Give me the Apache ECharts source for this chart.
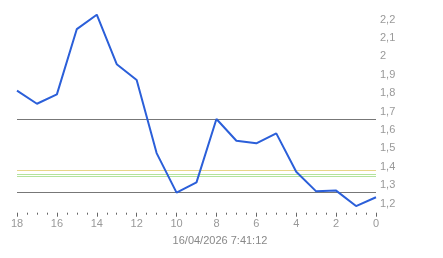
<!DOCTYPE html>
<html><head><meta charset="utf-8">
<script src="https://cdn.jsdelivr.net/npm/echarts@6/dist/echarts.min.js"></script>
<style>html,body{margin:0;padding:0;background:#fff}#c{width:443px;height:258px}</style>
</head><body><div id="c"></div>
<script>
const xValues = [18,17,16,15,14,13,12,11,10,9,8,7,6,5,4,3,2,1,0];
const yValues = [1.813,1.742,1.793,2.148,2.226,1.957,1.871,1.474,1.259,1.315,1.659,1.541,1.527,1.581,1.373,1.266,1.270,1.186,1.234];
const grayLines = [1.663, 1.261];
const yellowLines = [1.380];
const greenLines = [1.362, 1.349];
const dateLabel = '16/04/2026 7:41:12';

const chart = echarts.init(document.getElementById('c'));
const ml = [];
grayLines.forEach(v => ml.push({yAxis: v, lineStyle: {color: '#777777', width: 1, type: 'solid'}}));
yellowLines.forEach(v => ml.push({yAxis: v, lineStyle: {color: '#e8d58a', width: 1, type: 'solid'}}));
greenLines.forEach(v => ml.push({yAxis: v, lineStyle: {color: '#b3e39c', width: 1, type: 'solid'}}));

chart.setOption({
  animation: false,
  grid: {left: 17, right: 67, top: 10.3, bottom: 45.3},
  xAxis: {
    type: 'value', min: 0, max: 18, interval: 2, inverse: true,
    axisLine: {show: false},
    axisTick: {show: true, length: 4, lineStyle: {color: '#666'}},
    minorTick: {show: true, splitNumber: 4, length: 2, lineStyle: {color: '#666'}},
    splitLine: {show: false},
    axisLabel: {color: '#999', fontFamily: 'Liberation Sans', fontSize: 11, margin: 6}
  },
  yAxis: {
    type: 'value', position: 'right', min: 1.15, max: 2.25, interval: 0.05,
    axisLine: {show: false}, axisTick: {show: false}, splitLine: {show: false},
    axisLabel: {
      color: '#999', fontFamily: 'Liberation Sans', fontSize: 11, margin: 4,
      formatter: v => {
        const t = v * 10;
        if (Math.abs(t - Math.round(t)) > 1e-6) return '';
        return String(Math.round(t) / 10).replace('.', ',');
      }
    }
  },
  graphic: [{type: 'text', x: 220, y: 241, style: {text: dateLabel, fill: '#888', font: '11px "Liberation Sans"', textAlign: 'center', textVerticalAlign: 'middle'}}],
  series: [{
    type: 'line',
    data: xValues.map((x, i) => [x, yValues[i]]),
    symbol: 'none',
    lineStyle: {color: '#2b5fd9', width: 2},
    z: 3,
    markLine: {silent: true, symbol: 'none', label: {show: false}, data: ml, animation: false, z: 2}
  }]
});
</script></body></html>
